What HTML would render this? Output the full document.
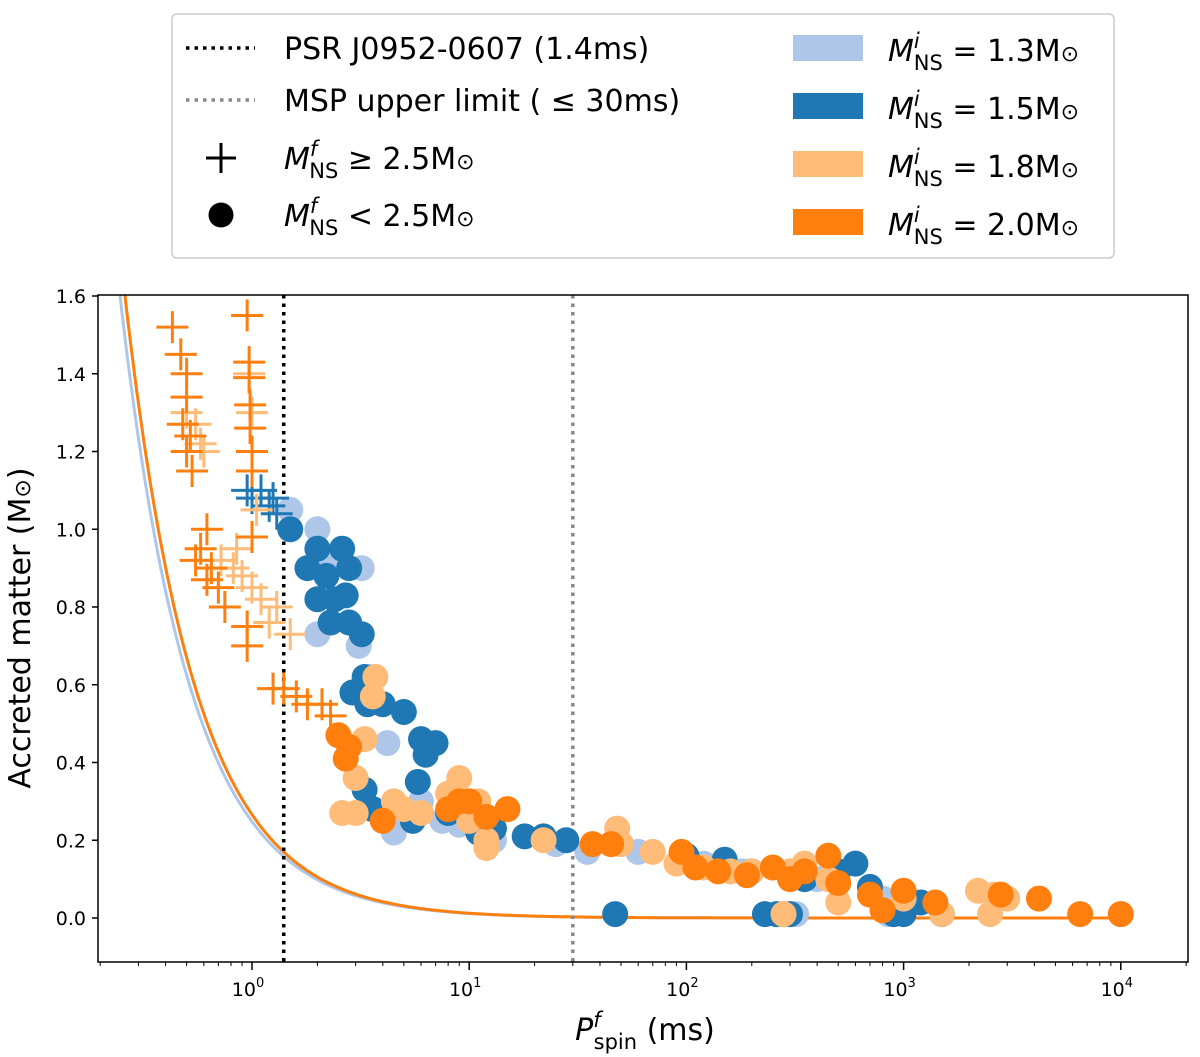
<!DOCTYPE html>
<html><head><meta charset="utf-8"><style>
body{margin:0;background:#fff;}
svg{display:block;font-family:"DejaVu Sans","Liberation Sans",sans-serif;}
</style></head><body>
<svg id="chart" width="1200" height="1057" viewBox="0 0 1200 1057" xmlns="http://www.w3.org/2000/svg">
<g id="legend">
<rect x="172" y="14" width="942" height="244" rx="5" fill="#fff" stroke="#ccc" stroke-width="1.5"/>
<g><line x1="186" y1="48" x2="255" y2="48" stroke="#000" stroke-width="3.5" stroke-dasharray="3.5,5"/><text x="284" y="59" font-size="30">PSR J0952-0607 (1.4ms)</text></g>
<g><line x1="186" y1="100" x2="255" y2="100" stroke="#888" stroke-width="3.5" stroke-dasharray="3.5,5"/><text x="284" y="111" font-size="30">MSP upper limit ( ≤ 30ms)</text></g>
<g><path d="M206 158h30M221 143v30" stroke="#000" stroke-width="3"/><text x="284" y="169" font-size="30" font-style="italic">M<tspan font-size="21" dy="-13">f</tspan><tspan font-size="21" dy="22" dx="-8" font-style="normal">NS</tspan><tspan dy="-9" font-style="normal"> ≥ 2.5M</tspan><tspan font-size="22" font-style="normal">⊙</tspan></text></g>
<g><circle cx="221" cy="215" r="12.5" fill="#000"/><text x="284" y="226" font-size="30" font-style="italic">M<tspan font-size="21" dy="-13">f</tspan><tspan font-size="21" dy="22" dx="-8" font-style="normal">NS</tspan><tspan dy="-9" font-style="normal"> &lt; 2.5M</tspan><tspan font-size="22" font-style="normal">⊙</tspan></text></g>
<g><rect x="793" y="35" width="70" height="26" fill="#aec7e8"/><text x="888" y="61" font-size="30" font-style="italic">M<tspan font-size="21" dy="-13">i</tspan><tspan font-size="21" dy="22" dx="-6" font-style="normal">NS</tspan><tspan dy="-9" font-style="normal"> = 1.3M</tspan><tspan font-size="22" font-style="normal">⊙</tspan></text></g>
<g><rect x="793" y="93" width="70" height="26" fill="#1f77b4"/><text x="888" y="119" font-size="30" font-style="italic">M<tspan font-size="21" dy="-13">i</tspan><tspan font-size="21" dy="22" dx="-6" font-style="normal">NS</tspan><tspan dy="-9" font-style="normal"> = 1.5M</tspan><tspan font-size="22" font-style="normal">⊙</tspan></text></g>
<g><rect x="793" y="151" width="70" height="26" fill="#ffbb78"/><text x="888" y="177" font-size="30" font-style="italic">M<tspan font-size="21" dy="-13">i</tspan><tspan font-size="21" dy="22" dx="-6" font-style="normal">NS</tspan><tspan dy="-9" font-style="normal"> = 1.8M</tspan><tspan font-size="22" font-style="normal">⊙</tspan></text></g>
<g><rect x="793" y="209" width="70" height="26" fill="#ff7f0e"/><text x="888" y="235" font-size="30" font-style="italic">M<tspan font-size="21" dy="-13">i</tspan><tspan font-size="21" dy="22" dx="-6" font-style="normal">NS</tspan><tspan dy="-9" font-style="normal"> = 2.0M</tspan><tspan font-size="22" font-style="normal">⊙</tspan></text></g>
</g>
<defs><clipPath id="clip"><rect x="98" y="295" width="1090" height="667"/></clipPath></defs>
<g id="plot" clip-path="url(#clip)"></g>
<g id="axes"></g>
<text x="645" y="1040" font-size="30" text-anchor="middle"><tspan font-style="italic">P</tspan><tspan font-size="21" dy="-13" font-style="italic">f</tspan><tspan font-size="21" dy="22" dx="-7">spin</tspan><tspan dy="-9"> (ms)</tspan></text>
<text transform="translate(30,628) rotate(-90)" font-size="30" text-anchor="middle">Accreted matter (M<tspan font-size="22">⊙</tspan>)</text>
</svg>
<script>
const yTicks=[0.0,0.2,0.4,0.6,0.8,1.0,1.2,1.4,1.6];
const xTickExp=[0,1,2,3,4];
const blueLightCirc=[[1.5,1.05],[2.0,1.0],[2.3,0.93],[3.2,0.9],[2.0,0.73],[3.1,0.7],[3.5,0.62],[4.2,0.45],[6.0,0.3],[4.5,0.22],[7.5,0.25],[9,0.24],[13,0.2],[25,0.19],[35,0.17],[60,0.17],[120,0.14],[180,0.12],[280,0.01],[320,0.01],[400,0.1],[800,0.05],[850,0.01],[1000,0.05]];
const blueDarkCirc=[[1.5,1.0],[1.8,0.9],[2.0,0.95],[2.2,0.88],[2.6,0.95],[2.8,0.9],[2.0,0.82],[2.4,0.82],[2.7,0.83],[2.3,0.76],[2.8,0.76],[3.2,0.73],[3.3,0.62],[2.9,0.58],[3.4,0.55],[4.0,0.55],[5.0,0.53],[6.0,0.46],[6.3,0.42],[7.0,0.45],[5.8,0.35],[3.3,0.33],[3.6,0.28],[5.5,0.25],[8,0.27],[11,0.22],[13,0.23],[18,0.21],[22,0.21],[28,0.2],[47,0.01],[100,0.16],[150,0.15],[200,0.12],[230,0.01],[260,0.01],[300,0.01],[350,0.1],[500,0.12],[600,0.14],[700,0.08],[900,0.01],[1000,0.01],[1200,0.04],[1500,0.01]];
const orangeLightCirc=[[3.7,0.62],[3.6,0.57],[3.3,0.46],[3.0,0.36],[2.6,0.27],[3.0,0.27],[4.5,0.3],[5,0.28],[6,0.27],[8,0.32],[9,0.36],[12,0.2],[11,0.3],[10,0.25],[12,0.18],[22,0.2],[48,0.23],[50,0.19],[70,0.17],[90,0.14],[120,0.13],[160,0.12],[200,0.12],[280,0.01],[300,0.12],[350,0.14],[450,0.1],[500,0.04],[1000,0.05],[1500,0.01],[2200,0.07],[2600,0.06],[3000,0.05],[2500,0.01],[10000,0.01]];
const orangeCirc=[[2.5,0.47],[2.8,0.44],[2.7,0.41],[4,0.25],[8,0.28],[9,0.3],[10,0.3],[12,0.26],[15,0.28],[37,0.19],[45,0.19],[95,0.17],[110,0.13],[140,0.12],[190,0.11],[250,0.13],[300,0.1],[350,0.12],[450,0.16],[500,0.09],[700,0.06],[800,0.02],[1000,0.07],[1400,0.04],[2800,0.06],[4200,0.05],[6500,0.01],[10000,0.01]];
const orangePlus=[[0.43,1.52],[0.47,1.45],[0.5,1.4],[0.5,1.34],[0.48,1.27],[0.52,1.24],[0.5,1.2],[0.53,1.15],[0.95,1.55],[0.97,1.43],[0.97,1.39],[0.98,1.32],[0.98,1.26],[1.0,1.2],[1.0,1.15],[1.0,0.98],[0.58,0.95],[0.55,0.92],[0.65,0.9],[0.62,0.87],[0.7,0.85],[0.75,0.8],[0.95,0.75],[0.95,0.7],[1.4,0.59],[1.25,0.59],[1.6,0.57],[1.8,0.55],[2.1,0.55],[2.3,0.52],[0.62,1.0]];
const orangeLightPlus=[[0.5,1.3],[0.55,1.27],[0.58,1.22],[0.6,1.2],[0.97,1.4],[1.0,1.3],[1.05,1.05],[0.72,0.92],[0.82,0.9],[0.9,0.88],[1.0,0.85],[1.1,0.82],[1.3,0.8],[1.5,0.73],[1.2,0.76],[0.85,0.95]];
const bluePlus=[[0.95,1.1],[1.0,1.08],[1.1,1.1],[1.2,1.06],[1.3,1.04],[1.25,1.08]];
const curveK=[0.248,0.266];
const curveExp=1.333;
const refLines=[1.4,30];

const NS='http://www.w3.org/2000/svg';
const X=p=>252+217.2*Math.log10(p);
const Y=m=>918-388.75*m;
const plot=document.getElementById('plot'),axes=document.getElementById('axes');
function mk(tag,at,parent){const e=document.createElementNS(NS,tag);for(const k in at)e.setAttribute(k,at[k]);parent.appendChild(e);return e;}
['#aec7e8','#ff7f0e'].forEach((c,i)=>{let d='';for(let lx=Math.log10(0.2);lx<=4;lx+=0.01){const p=Math.pow(10,lx);d+=(d?'L':'M')+X(p).toFixed(1)+' '+Y(curveK[i]*Math.pow(p,-curveExp)).toFixed(1);}
const e=mk('path',{d:d,fill:'none',stroke:c,'stroke-width':3},plot);

});
refLines.forEach((v,i)=>{const e=mk('line',{x1:X(v),x2:X(v),y1:295,y2:962,stroke:i?'#888':'#000','stroke-width':3.5,'stroke-dasharray':'3.5,5'},plot);

});
function circles(arr,c,name){arr.forEach(d=>{const e=mk('circle',{cx:X(d[0]),cy:Y(d[1]),r:13,fill:c},plot);

});}
function pluses(arr,c,name){arr.forEach(d=>{const x=X(d[0]),y=Y(d[1]);const e=mk('path',{d:`M${x-16} ${y}h32M${x} ${y-16}v32`,stroke:c,'stroke-width':3},plot);

});}
circles(blueLightCirc,'#aec7e8','point-1.3');
circles(blueDarkCirc,'#1f77b4','point-1.5');
pluses(bluePlus,'#1f77b4','plus-1.5');
circles(orangeLightCirc,'#ffbb78','point-1.8');
pluses(orangeLightPlus,'#ffbb78','plus-1.8');
circles(orangeCirc,'#ff7f0e','point-2.0');
pluses(orangePlus,'#ff7f0e','plus-2.0');
mk('rect',{x:98,y:295,width:1090,height:667,fill:'none',stroke:'#000','stroke-width':1.5},axes);
yTicks.forEach(v=>{const y=Y(v);mk('line',{x1:92,x2:98,y1:y,y2:y,stroke:'#000','stroke-width':1.5},axes);
const t=mk('text',{x:86,y:y+7,'font-size':19,'text-anchor':'end'},axes);t.textContent=v.toFixed(1);

});
xTickExp.forEach(ex=>{const x=X(Math.pow(10,ex));mk('line',{x1:x,x2:x,y1:962,y2:970,stroke:'#000','stroke-width':1.5},axes);
const t=mk('text',{x:x-4,y:996,'font-size':19,'text-anchor':'middle'},axes);t.textContent='10';
const s=mk('tspan',{'font-size':13,dy:-9},t);s.textContent=ex;


for(let k=2;k<10;k++){const xm=X(k*Math.pow(10,ex-1));if(xm>98&&xm<1188)mk('line',{x1:xm,x2:xm,y1:962,y2:966,stroke:'#000','stroke-width':1},axes);}});
for(let k=2;k<10;k++){const xm=X(k*1e4);if(xm<1188)mk('line',{x1:xm,x2:xm,y1:962,y2:966,stroke:'#000','stroke-width':1},axes);}
</script>
</body></html>
